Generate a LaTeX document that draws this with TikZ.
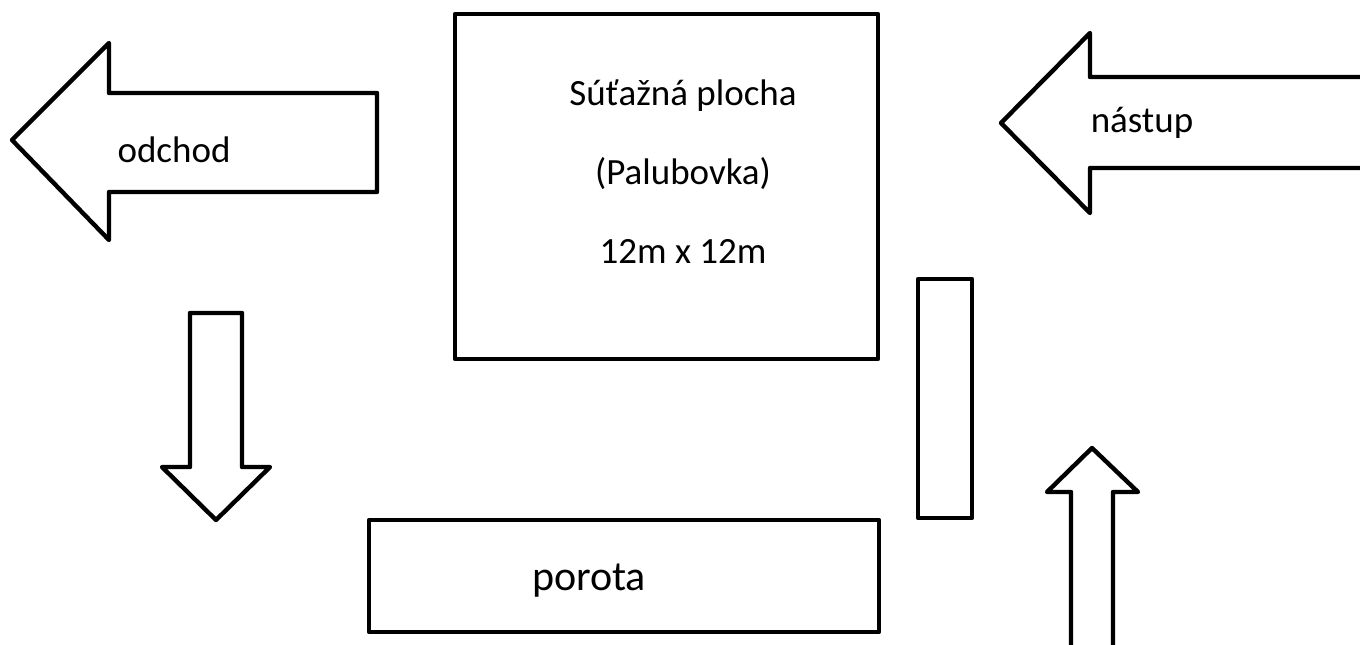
\documentclass[tikz,border=0pt]{standalone}
\usepackage{fontspec}
\setmainfont{Carlito}
\begin{document}
\begin{tikzpicture}[x=1pt,y=-1pt,
  shapeline/.style={draw=black,line width=4.4pt,line join=round,fill=white},
  lbl/.style={anchor=base,inner sep=0pt,font=\fontsize{37}{44}\selectfont},
  biglbl/.style={anchor=base,inner sep=0pt,font=\fontsize{42}{50}\selectfont}]
\useasboundingbox (0,0) rectangle (1360,645);
\clip (0,0) rectangle (1360,645);
% odchod arrow (left)
\draw[shapeline] (12,140) -- (109,43) -- (109,93) -- (377,93) -- (377,192) -- (109,192) -- (109,240) -- cycle;
\node[lbl] (odchod) at (174,162) {odchod};
% nastup arrow (left, from right edge)
\draw[shapeline] (1380,77) -- (1090,77) -- (1090,33) -- (1001,123) -- (1090,213) -- (1090,168) -- (1380,168);
\node[lbl] (nastup) at (1142,132) {nástup};
% competition area
\draw[shapeline] (455,14) rectangle (878,359);
\node[lbl] (l1) at (683,105) {Súťažná plocha};
\node[lbl] (l2) at (683,184) {(Palubovka)};
\node[lbl] (l3) at (683,263) {12m x 12m};
% down arrow
\draw[shapeline] (190,313) -- (242,313) -- (242,467) -- (270,467) -- (216,520) -- (162,467) -- (190,467) -- cycle;
% vertical rectangle
\draw[shapeline] (918,279) rectangle (972,518);
% porota
\draw[shapeline] (369,520) rectangle (879,632);
\node[biglbl] (porota) at (589,590) {porota};
% up arrow
\draw[shapeline] (1071,680) -- (1071,492) -- (1047,492) -- (1092,448) -- (1138,492) -- (1113,492) -- (1113,680);
\end{tikzpicture}
\end{document}
